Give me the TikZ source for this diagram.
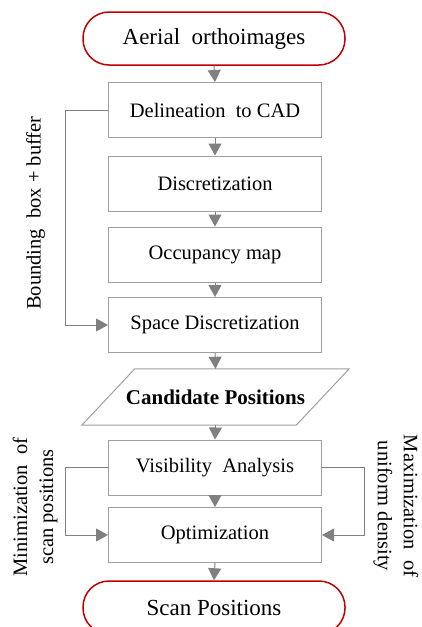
\documentclass[tikz,border=0pt]{standalone}
\usepackage{fontspec}
\setmainfont{Liberation Serif}
\usetikzlibrary{arrows.meta,calc}
\definecolor{boxgray}{HTML}{A0A0A0}
\definecolor{arrgray}{HTML}{808080}
\definecolor{termred}{HTML}{C00000}
\begin{document}
\begin{tikzpicture}[x=1pt,y=-1pt,
  procbox/.style={draw=boxgray,line width=1pt,minimum width=213pt,minimum height=55pt,inner sep=0pt,font=\fontsize{20.5}{25}\selectfont},
  termbox/.style={draw=termred,line width=1.5pt,rounded corners=26pt,minimum width=262pt,minimum height=53pt,inner sep=0pt,font=\fontsize{23}{28}\selectfont},
  flow/.style={draw=arrgray,line width=1pt,-{Triangle[width=13pt,length=12pt]},arrgray},
  sidetext/.style={font=\fontsize{20.5}{26}\selectfont,align=center,inner sep=0pt}]
\useasboundingbox (0,0) rectangle (422,627);
\node[termbox] (aer) at (214,38.5) {Aerial\ \ orthoimages};
\node[procbox] (del) at (215,110) {Delineation\ \ to CAD};
\node[procbox] (dis) at (215,183.5) {Discretization};
\node[procbox] (occ) at (215,254.5) {Occupancy map};
\node[procbox] (spd) at (215,325) {Space Discretization};
\node[minimum width=214pt,minimum height=56pt,inner sep=0pt,font=\fontsize{21}{25}\selectfont\bfseries] (cand) at (215.5,397) {Candidate Positions};
\draw[draw=boxgray,line width=1pt] ([xshift=26.5pt]cand.north west) -- ([xshift=26.5pt]cand.north east) -- ([xshift=-26.5pt]cand.south east) -- ([xshift=-26.5pt]cand.south west) -- cycle;
\node[procbox] (vis) at (215,467.5) {Visibility\ \ Analysis};
\node[procbox] (opt) at (215,535) {Optimization};
\node[termbox] (scan) at (214,607.5) {Scan Positions};
\coordinate (LX) at (65,0);
\coordinate (RX) at (364,0);
\draw[flow] (aer.south) -- (del.north);
\draw[flow] (del.south) -- (dis.north);
\draw[flow] (dis.south) -- (occ.north);
\draw[flow] (occ.south) -- (spd.north);
\draw[flow] (spd.south) -- (cand.north);
\draw[flow] (cand.south) -- (vis.north);
\draw[flow] (vis.south) -- (opt.north);
\draw[flow] (opt.south) -- (scan.north);
\draw[flow] (del.west) -- (del.west -| LX) |- (spd.west);
\draw[flow] (vis.west) -- (vis.west -| LX) |- (opt.west);
\draw[flow] (vis.east) -- (vis.east -| RX) |- (opt.east);
\node[sidetext,rotate=90] (bb) at (35.5,213) {Bounding\ \ box + buffer};
\node[sidetext,rotate=90] (minz) at (35,507) {Minimization\ \ of\\scan positions};
\node[sidetext,rotate=-90] (maxz) at (396,506) {Maximization\ \ of\\uniform density};
\end{tikzpicture}
\end{document}
